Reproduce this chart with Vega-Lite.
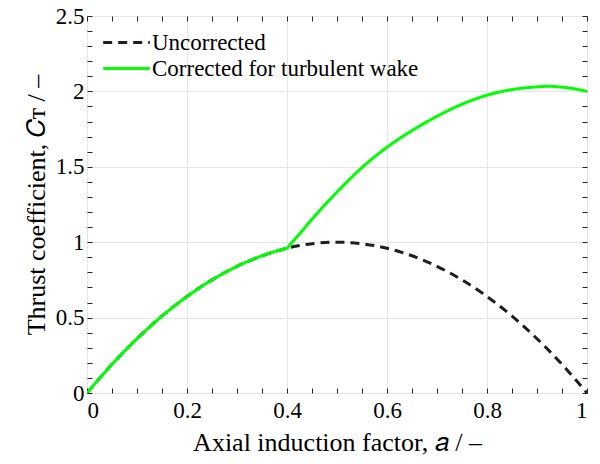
{
  "$schema": "https://vega.github.io/schema/vega-lite/v6.json",
  "autosize": {"type": "none"},
  "padding": {"left": 87, "top": 16, "right": 13, "bottom": 71},
  "width": 500,
  "height": 377,
  "background": "white",
  "config": {
    "view": {"stroke": "#262626", "strokeWidth": 1},
    "font": "Liberation Serif",
    "axis": {
      "domain": false,
      "ticks": true,
      "tickColor": "#262626",
      "tickOpacity": 1,
      "tickWidth": 1,
      "tickSize": -5,
      "zindex": 1,
      "labelFont": "Liberation Serif",
      "labelFontSize": 23,
      "labelColor": "#000000",
      "titleFont": "Liberation Serif",
      "titleFontSize": 26,
      "titleFontWeight": "normal",
      "titleColor": "#000000",
      "gridColor": "#e6e6e6",
      "gridWidth": 1
    }
  },
  "datasets": {
    "uncorrected": [
      {"a": 0.0, "ct": 0.0, "series": "Uncorrected"},
      {"a": 0.05, "ct": 0.19, "series": "Uncorrected"},
      {"a": 0.1, "ct": 0.36, "series": "Uncorrected"},
      {"a": 0.15, "ct": 0.51, "series": "Uncorrected"},
      {"a": 0.2, "ct": 0.64, "series": "Uncorrected"},
      {"a": 0.25, "ct": 0.75, "series": "Uncorrected"},
      {"a": 0.3, "ct": 0.84, "series": "Uncorrected"},
      {"a": 0.35, "ct": 0.91, "series": "Uncorrected"},
      {"a": 0.4, "ct": 0.96, "series": "Uncorrected"},
      {"a": 0.45, "ct": 0.99, "series": "Uncorrected"},
      {"a": 0.5, "ct": 1.0, "series": "Uncorrected"},
      {"a": 0.55, "ct": 0.99, "series": "Uncorrected"},
      {"a": 0.6, "ct": 0.96, "series": "Uncorrected"},
      {"a": 0.65, "ct": 0.91, "series": "Uncorrected"},
      {"a": 0.7, "ct": 0.84, "series": "Uncorrected"},
      {"a": 0.75, "ct": 0.75, "series": "Uncorrected"},
      {"a": 0.8, "ct": 0.64, "series": "Uncorrected"},
      {"a": 0.85, "ct": 0.51, "series": "Uncorrected"},
      {"a": 0.9, "ct": 0.36, "series": "Uncorrected"},
      {"a": 0.95, "ct": 0.19, "series": "Uncorrected"},
      {"a": 1.0, "ct": 0.0, "series": "Uncorrected"}
    ],
    "corrected": [
      {"a": 0.0, "ct": 0.0, "series": "Corrected for turbulent wake"},
      {"a": 0.05, "ct": 0.19, "series": "Corrected for turbulent wake"},
      {"a": 0.1, "ct": 0.36, "series": "Corrected for turbulent wake"},
      {"a": 0.15, "ct": 0.51, "series": "Corrected for turbulent wake"},
      {"a": 0.2, "ct": 0.64, "series": "Corrected for turbulent wake"},
      {"a": 0.25, "ct": 0.75, "series": "Corrected for turbulent wake"},
      {"a": 0.3, "ct": 0.84, "series": "Corrected for turbulent wake"},
      {"a": 0.35, "ct": 0.91, "series": "Corrected for turbulent wake"},
      {"a": 0.395, "ct": 0.956, "series": "Corrected for turbulent wake"},
      {"a": 0.4, "ct": 0.96, "series": "Corrected for turbulent wake"},
      {"a": 0.405, "ct": 0.979, "series": "Corrected for turbulent wake"},
      {"a": 0.425, "ct": 1.055, "series": "Corrected for turbulent wake"},
      {"a": 0.45, "ct": 1.152, "series": "Corrected for turbulent wake"},
      {"a": 0.475, "ct": 1.245, "series": "Corrected for turbulent wake"},
      {"a": 0.5, "ct": 1.333, "series": "Corrected for turbulent wake"},
      {"a": 0.55, "ct": 1.495, "series": "Corrected for turbulent wake"},
      {"a": 0.6, "ct": 1.63, "series": "Corrected for turbulent wake"},
      {"a": 0.65, "ct": 1.74, "series": "Corrected for turbulent wake"},
      {"a": 0.7, "ct": 1.835, "series": "Corrected for turbulent wake"},
      {"a": 0.75, "ct": 1.915, "series": "Corrected for turbulent wake"},
      {"a": 0.8, "ct": 1.975, "series": "Corrected for turbulent wake"},
      {"a": 0.85, "ct": 2.012, "series": "Corrected for turbulent wake"},
      {"a": 0.9, "ct": 2.03, "series": "Corrected for turbulent wake"},
      {"a": 0.925, "ct": 2.034, "series": "Corrected for turbulent wake"},
      {"a": 0.95, "ct": 2.028, "series": "Corrected for turbulent wake"},
      {"a": 0.975, "ct": 2.017, "series": "Corrected for turbulent wake"},
      {"a": 1.0, "ct": 2.0, "series": "Corrected for turbulent wake"}
    ]
  },
  "layer": [
    {
      "data": {"name": "uncorrected"},
      "mark": {"type": "line", "strokeWidth": 3, "interpolate": "monotone", "clip": true},
      "encoding": {
        "x": {
          "field": "a", "type": "quantitative",
          "scale": {"domain": [0, 1], "nice": false, "zero": false},
          "axis": {
            "orient": "bottom",
            "title": "Axial induction factor, 𝑎 / –",
            "titlePadding": 7,
            "values": [0, 0.05, 0.1, 0.15, 0.2, 0.25, 0.3, 0.35, 0.4, 0.45, 0.5, 0.55, 0.6, 0.65, 0.7, 0.75, 0.8, 0.85, 0.9, 0.95, 1],
            "format": "~g",
            "labelExpr": "abs(datum.value*5 - round(datum.value*5)) < 0.001 ? datum.label : ''",
            "labelPadding": 11,
            "grid": true,
            "gridOpacity": {"condition": {"test": "abs(datum.value*5 - round(datum.value*5)) < 0.001", "value": 1}, "value": 0}
          }
        },
        "y": {
          "field": "ct", "type": "quantitative",
          "scale": {"domain": [0, 2.5], "nice": false, "zero": false},
          "axis": {
            "orient": "left",
            "title": "Thrust coefficient, 𝐶ᴛ / –",
            "titlePadding": 6,
            "values": [0, 0.1, 0.2, 0.3, 0.4, 0.5, 0.6, 0.7, 0.8, 0.9, 1, 1.1, 1.2, 1.3, 1.4, 1.5, 1.6, 1.7, 1.8, 1.9, 2, 2.1, 2.2, 2.3, 2.4, 2.5],
            "format": "~g",
            "labelExpr": "abs(datum.value*2 - round(datum.value*2)) < 0.001 ? datum.label : ''",
            "labelPadding": 8,
            "grid": true,
            "gridOpacity": {"condition": {"test": "abs(datum.value*2 - round(datum.value*2)) < 0.001", "value": 1}, "value": 0}
          }
        },
        "color": {
          "field": "series", "type": "nominal",
          "scale": {"domain": ["Uncorrected", "Corrected for turbulent wake"], "range": ["#1e1e1e", "#00ff00"]},
          "legend": {
            "title": null,
            "orient": "none",
            "legendX": 28,
            "legendY": 15,
            "symbolType": "M-2.33,0H2.33",
            "symbolSize": 400,
            "symbolStrokeWidth": 3,
            "labelFont": "Liberation Serif",
            "labelFontSize": 23,
            "labelLimit": 500,
            "labelColor": "#000000",
            "rowPadding": 2,
            "labelOffset": 14,
            "padding": 0
          }
        },
        "strokeDash": {
          "field": "series", "type": "nominal",
          "scale": {"domain": ["Uncorrected", "Corrected for turbulent wake"], "range": [[9, 6], [1, 0]]},
          "legend": {
            "title": null,
            "orient": "none",
            "legendX": 28,
            "legendY": 15,
            "symbolType": "M-2.33,0H2.33",
            "symbolSize": 400,
            "symbolStrokeWidth": 3,
            "labelFont": "Liberation Serif",
            "labelFontSize": 23,
            "labelLimit": 500,
            "labelColor": "#000000",
            "rowPadding": 2,
            "labelOffset": 14,
            "padding": 0
          }
        }
      }
    },
    {
      "data": {"name": "corrected"},
      "mark": {"type": "line", "strokeWidth": 3, "interpolate": "monotone", "clip": true},
      "encoding": {
        "x": {
          "field": "a", "type": "quantitative",
          "axis": {
            "orient": "top",
            "title": null,
            "values": [0, 0.05, 0.1, 0.15, 0.2, 0.25, 0.3, 0.35, 0.4, 0.45, 0.5, 0.55, 0.6, 0.65, 0.7, 0.75, 0.8, 0.85, 0.9, 0.95, 1],
            "labels": false,
            "grid": false
          }
        },
        "y": {
          "field": "ct", "type": "quantitative",
          "axis": {
            "orient": "right",
            "title": null,
            "values": [0, 0.1, 0.2, 0.3, 0.4, 0.5, 0.6, 0.7, 0.8, 0.9, 1, 1.1, 1.2, 1.3, 1.4, 1.5, 1.6, 1.7, 1.8, 1.9, 2, 2.1, 2.2, 2.3, 2.4, 2.5],
            "labels": false,
            "grid": false
          }
        },
        "color": {"field": "series", "type": "nominal"},
        "strokeDash": {"field": "series", "type": "nominal"}
      }
    }
  ],
  "resolve": {"axis": {"x": "independent", "y": "independent"}}
}
